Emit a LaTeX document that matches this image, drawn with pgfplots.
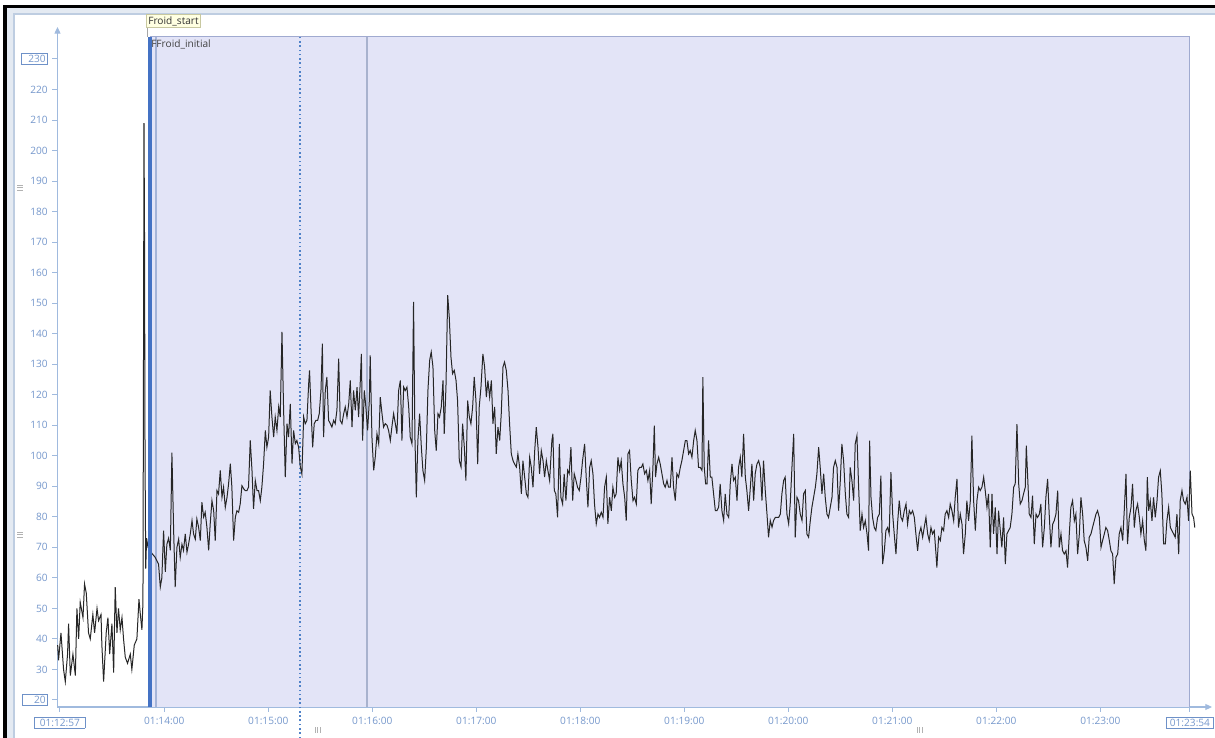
\documentclass[border=0pt]{standalone}
\usepackage{fontspec}
\setmainfont{Open Sans}
\usepackage{pgfplots}
\usepackage{pgfplotstable}
\pgfplotsset{compat=1.18}
\usetikzlibrary{arrows.meta}
\definecolor{axisblue}{RGB}{160,186,222}
\definecolor{ticklab}{RGB}{118,152,204}
\definecolor{boxblue}{RGB}{110,145,200}
\definecolor{shade}{RGB}{227,228,247}
\definecolor{shadeedge}{RGB}{160,170,208}
\definecolor{markblue}{RGB}{68,114,196}
\definecolor{thinmark}{RGB}{165,180,216}
\definecolor{graymark}{RGB}{168,178,206}
\definecolor{dotblue}{RGB}{80,130,200}
\definecolor{framegray}{RGB}{190,205,225}
\definecolor{frameband}{RGB}{228,234,242}
\definecolor{tagfill}{RGB}{255,255,225}
\definecolor{tagedge}{RGB}{200,200,160}

\pgfplotstableread{
t v
58.5 38
59.0 33
60.4 42
61.9 30
62.9 26
64.2 35
64.8 45
65.8 28
67.3 35
68.7 28
69.6 50
70.6 40
71.5 52
73.1 47
74.0 58
75.0 55
76.3 42
77.3 40
78.8 48
79.8 42
81.2 50
82.1 46
83.5 48
84.0 38
85.0 26
86.5 42
87.5 47
88.5 35
89.8 45
90.8 29
91.7 57
92.7 42
93.6 50
94.6 43
95.6 47
96.5 40
97.5 34
98.8 32
100.4 35
101.3 30
102.7 38
104.2 40
105.4 53
106.2 48
107.1 43
107.7 52
108.0 128
108.3 209
108.6 172
108.9 100
109.3 63
109.8 73
110.6 70
112.9 68
114.8 66.7
116.7 64.5
117.7 57
118.6 60
119.6 75.5
120.6 62
121.5 71
122.5 73
123.5 69
124.4 101
125.4 75.5
126.3 57
127.3 70
128.3 72.7
129.2 66.7
130.2 71
131.1 69
132.1 74.4
133.1 68.4
134.0 71
135.0 74.4
136.0 78.8
136.9 74.4
137.9 72.7
138.8 79.3
139.8 76.6
140.8 72.2
141.7 84.8
142.7 79.9
143.6 81.5
144.6 76.6
145.6 69
146.5 77.7
147.5 85.3
148.5 82
149.4 72.2
150.4 88.6
151.3 87.5
152.3 95.2
153.3 86.4
154.2 89.7
155.2 83.1
156.2 86.4
157.1 90.8
158.1 97.4
159.0 89.7
160.0 72.2
161.0 79.9
161.9 82
162.9 81.5
163.8 84.2
164.8 90.2
165.8 89.2
166.7 88.6
167.7 88.6
168.6 89.7
169.6 105
170.6 95.2
171.5 82.6
172.5 91.9
173.5 88.6
174.4 88.6
175.4 85.3
176.3 89.7
177.3 97.4
178.3 108.3
179.2 102.8
180.2 106.1
181.1 121.4
182.1 112.7
183.1 106.1
184.0 112.7
185.0 108.3
186.0 116
186.9 112.7
187.9 140.6
188.8 116
189.8 93
190.8 110.5
191.7 106.1
192.7 117
193.7 97.4
194.6 108.3
195.6 104
196.5 105
197.5 102.8
198.5 96.3
199.4 94
200.4 112.7
201.3 110.5
202.3 111.6
203.3 123.6
203.8 128
204.6 116
205.6 102.8
206.5 110.5
207.5 111.6
208.5 111.6
209.4 113.8
210.4 121.4
211.2 136.7
211.9 106.1
212.9 121.4
213.8 125.8
214.8 111.6
215.8 110.5
216.7 109.4
217.7 111.6
218.6 110.5
219.6 114.9
220.6 131.8
221.5 111.6
222.5 110.5
223.5 113.8
224.4 116
225.4 112.7
226.4 117
227.3 124.7
228.3 109.4
229.2 121.4
230.2 114.9
231.2 122.5
232.1 112.7
233.1 124.7
233.7 133.4
234.4 105
235.4 121.4
236.3 116
237.3 108.3
238.3 118.1
238.8 132.9
239.8 106.1
240.8 95.2
241.7 99.5
242.7 107.2
243.7 103.9
244.6 119.2
245.6 113.8
246.5 109.4
247.5 110.5
248.5 110
249.4 108.3
250.4 105
251.3 109.4
252.3 113.8
253.3 110.5
254.2 107.2
255.2 121.4
256.2 124.7
257.1 105
258.1 122.5
259.0 121.4
260.0 122.5
261.0 116
261.9 106.1
262.9 103.9
263.8 150.4
264.6 106.1
265.4 86.4
266.3 105
267.3 113.8
268.3 102.8
269.2 95.2
270.2 91.9
271.2 102.8
272.1 121.4
273.1 131.3
274.0 134
275.0 129.1
276.0 108.3
276.9 101.7
277.9 113.8
278.8 112.7
279.8 116
280.8 124.7
281.5 107.2
282.5 122.5
283.5 152.6
284.4 145.5
285.4 132.3
286.3 126.9
287.3 128
288.3 124.7
289.2 118.1
290.2 98.4
291.2 96.3
292.1 110.5
293.1 102.8
294.0 91.9
295.0 118.1
296.0 112.7
296.9 110.5
297.9 116
298.8 125.8
299.8 118.1
300.8 97.3
301.7 116
302.7 122.5
303.8 133.4
304.8 129.1
305.8 119.2
306.7 124.7
307.7 119.2
308.7 124.7
309.6 110.5
310.6 116
311.5 100.6
312.5 109.4
313.5 105
314.4 113.8
315.4 129.1
316.3 130.7
317.3 128
318.3 121.4
319.2 110.5
320.2 100.6
321.2 98.4
322.1 97.3
323.1 96.3
324.0 100.6
325.0 96.3
326.0 87.5
326.9 98.4
327.9 93
328.9 87.5
329.8 86.4
330.8 99.5
331.7 96.3
332.7 89.7
333.7 101.7
334.6 109.4
335.6 102.8
336.5 94.1
337.5 101.7
338.5 98.4
339.4 93
340.4 98.4
341.3 95.2
342.3 91.9
343.6 105
344.2 107.2
345.0 88.6
345.9 87.5
346.9 79.8
347.9 103.9
348.8 86.4
349.8 84.2
350.7 94.1
351.7 85.3
352.7 95.2
353.6 94.1
354.6 102.8
355.6 85.3
356.5 94.1
357.5 91.9
358.4 89.7
359.4 88.6
360.4 93
361.3 98.4
362.5 103.9
363.4 93
364.4 83.1
365.4 96.2
366.3 98.4
367.3 94.1
368.2 84.2
369.2 77.7
370.2 80.9
371.1 79.8
372.1 81.5
373.1 79.8
374.0 89.7
375.0 93
375.9 77.7
376.9 86.4
377.9 82
378.8 89.7
379.8 86.4
380.7 87.5
381.7 99.5
382.7 95.2
383.6 98.4
384.6 90.8
385.6 86.4
386.5 78.8
387.5 100.6
388.4 101.7
389.4 91.9
390.4 85.3
391.3 86.4
392.3 84.2
393.2 95.2
394.2 96.2
395.2 96.2
396.1 97.3
397.1 94.1
398.1 95.2
399.0 91.9
400.0 95.2
400.9 84.2
401.9 96.2
402.7 109.9
403.4 93
404.2 97.3
405.2 99.5
406.1 97.3
407.1 94.1
408.1 90.8
409.0 89.7
410.0 91.9
410.9 89.7
411.9 89.7
412.9 99.5
413.8 89.7
414.8 85.3
415.7 94.1
416.7 93
417.7 96.2
418.6 98.4
419.6 101.7
420.6 105
421.5 105
422.5 100.6
423.4 101.7
424.4 99.5
425.4 105
426.3 108.3
427.3 105
428.2 96.2
429.2 96.2
430.2 95.2
430.7 125.8
431.5 96.2
432.3 90.8
433.1 90.8
434.0 105
435.0 93
435.9 93
436.9 87.5
437.9 82
438.8 82
439.8 83.1
440.7 90.8
441.7 82
442.7 78.8
443.6 87.5
444.6 80.9
445.6 79.8
446.5 90.8
447.5 97.3
448.4 91.9
449.4 93
450.4 85.3
451.3 96.2
452.3 99.5
453.2 93
454.2 107.2
455.2 93
456.1 88.6
457.1 82
458.1 89.7
459.0 97.3
460.0 85.3
460.9 94.1
461.9 97.3
462.9 98.4
463.8 96.2
464.8 85.3
465.7 98.4
466.7 88.6
467.7 80.9
468.6 73.3
469.6 78.8
470.6 76.6
471.5 78.8
472.5 79.8
473.4 79.8
474.4 79.8
475.4 80.9
476.3 87.5
477.3 91.9
478.2 93
479.2 80.9
480.2 77.7
481.1 84.2
482.1 96.2
483.1 107.2
484.0 73.3
485.0 86.4
485.9 85.3
486.9 80.9
487.9 78.8
488.8 87.5
489.8 88.6
490.7 74.4
491.7 73.3
492.7 78.8
493.6 83.1
494.6 86.4
495.6 89.7
496.5 94.1
497.5 102.8
498.4 96.2
499.4 87.5
500.4 94.1
501.3 86.4
502.3 80.9
503.2 79.8
504.2 83.1
505.2 86.4
506.1 96.2
507.1 98.4
508.1 96.2
509.0 82
510.0 91.9
510.9 103.9
511.9 98.4
512.9 87.5
513.8 80.9
514.8 79.8
515.7 96.2
516.7 91.9
517.7 85.3
518.6 103.9
519.6 106.6
520.5 90.8
521.5 75.5
522.5 80.9
523.4 76.5
524.4 78.7
525.4 74.4
526.3 68.9
526.9 105
527.7 86.4
528.6 79.8
529.6 76.5
530.5 75.5
531.5 79.8
532.5 80.9
533.4 93.5
534.4 64.5
535.4 68.9
536.3 75.5
537.3 76.5
538.2 74.4
539.2 94.6
540.2 80.9
541.1 74.4
542.1 67.8
543.0 77.6
544.0 85.3
545.0 79.8
545.9 78.7
546.9 82
547.9 84.2
548.8 77.6
549.8 82
550.7 80.9
551.7 82
552.7 79.8
553.6 74.4
554.6 68.9
555.5 74.4
556.5 76.5
557.5 73.3
558.4 76.5
559.4 79.8
560.4 74.4
561.3 72.2
562.3 76.5
563.2 74.4
564.2 75.5
565.2 67.8
565.7 63.4
566.7 73.3
567.7 72.2
568.6 76.5
569.6 75.5
570.5 80.9
571.5 82
572.5 79.8
573.4 84.2
574.4 82
575.4 78.7
576.3 86.4
577.3 92.4
578.2 76.5
579.2 80.9
580.2 77.6
581.1 67.8
582.1 74.4
583.0 85.3
584.0 78.7
585.0 85.3
585.9 106.6
586.9 85.3
587.9 75.5
588.8 85.3
589.8 89.7
590.7 88.6
591.7 89.7
592.7 93
593.6 88.6
594.6 83.1
595.5 87.5
596.5 70
597.5 87.5
598.4 74.4
599.4 83.1
600.4 67.8
601.3 82
602.3 75.5
603.2 70
604.2 79.8
605.2 64.5
606.1 74.4
607.1 75.5
608.0 76.5
609.0 80.9
610.0 89.7
610.9 90.8
611.9 110.4
612.9 90.8
613.8 84.2
614.8 85.3
615.7 87.5
616.7 89.7
617.3 103.3
618.0 94.1
619.0 80.9
620.0 79.8
620.9 86.9
621.9 71.1
622.9 80.9
623.8 79.8
624.8 80.9
625.7 84.2
626.7 70
627.7 76.5
628.6 86.4
629.6 92.4
630.5 80.9
631.5 70
632.5 77.6
633.4 78.7
634.4 80.9
635.4 88.6
636.3 70
637.3 74.4
638.2 68.9
639.2 67.8
640.2 68.9
641.1 63.4
642.1 74.4
643.0 83.1
644.0 85.3
645.0 78.7
645.9 80.9
646.9 67.8
647.9 74.4
648.8 86.4
649.8 80.9
650.7 72.2
651.7 70
652.7 65.6
653.6 73.3
654.6 74.4
655.5 76.5
656.5 78.7
657.5 80.9
658.4 82
659.4 79.8
660.4 70
661.3 72.2
662.3 74.4
663.2 76.5
664.2 75.5
665.2 72.2
666.1 68.9
667.1 67.8
668.0 58
669.0 66.7
670.0 67.8
670.9 74.4
671.9 76.5
672.9 72.2
673.8 82
674.8 94.1
675.7 71.1
676.7 79.8
677.7 83.1
678.6 90.8
679.6 76.5
680.5 82
681.5 84.2
682.5 79.8
683.4 74.4
684.4 78.7
685.4 72.2
686.3 68.9
687.1 93
687.9 82
688.8 85.3
689.8 78.7
690.7 86.4
691.7 79.8
692.7 85.3
693.6 93
694.6 95.1
695.5 87.5
696.5 71.1
697.5 71.1
698.4 78.7
699.4 83.1
700.4 76.5
701.3 75.5
702.3 74.4
703.2 73.3
704.2 80.9
705.2 67.8
706.1 85.3
707.1 88.6
708.0 85.3
709.0 84.2
710.0 86.4
710.9 78.7
711.9 95.1
712.9 80.9
713.8 79.8
714.5 76.5
}\datatable

\begin{document}
\begin{tikzpicture}[x=0.75pt,y=0.75pt]
% window frame (pixel-based picture coordinates, y up from the bottom)
\path[use as bounding box, fill=white] (0,0) rectangle (1215,738);
\fill[frameband] (7,0) rectangle (1215,730);
\fill[white] (15,0) rectangle (1215,723);
\draw[framegray, line width=1.5pt] (14,0) -- (14,724) -- (1215,724);
\fill[black] (3,0) rectangle (7,733);
\fill[black] (3,730) rectangle (1215,733);

\begin{axis}[
  at={(43.125pt,23.25pt)}, anchor=south west,
  scale only axis, width=853.1pt, height=502.5pt,
  xmin=58.4, xmax=714.6, ymin=17.7, ymax=237.2,
  axis x line*=bottom, axis y line*=left,
  axis line style={axisblue, line width=0.9pt},
  x axis line style={-{Triangle[length=5pt,width=4.5pt]}, shorten >=-12.75pt},
  y axis line style={-{Triangle[length=5pt,width=4.5pt]}, shorten >=-7.5pt},
  tick align=outside, major tick length=3.75pt,
  tick style={axisblue, line width=0.75pt},
  /pgf/number format/assume math mode=true,
  ticklabel style={font=\fontsize{7.6}{8.5}\selectfont, text=ticklab},
  xtick={59.8,120,180,240,300,360,420,480,540,600,660,711.7},
  xticklabels={{\fcolorbox{boxblue}{white}{\makebox[35pt]{01:12:57}}},01:14:00,01:15:00,01:16:00,01:17:00,01:18:00,01:19:00,01:20:00,01:21:00,01:22:00,01:23:00,{\fcolorbox{boxblue}{white}{\makebox[33pt]{01:23:54}}}},
  ytick={20,30,40,50,60,70,80,90,100,110,120,130,140,150,160,170,180,190,200,210,220,230},
  yticklabels={{\fcolorbox{boxblue}{white}{\makebox[16pt][r]{20}}},30,40,50,60,70,80,90,100,110,120,130,140,150,160,170,180,190,200,210,220,{\fcolorbox{boxblue}{white}{\makebox[17pt][r]{230}}}},
  every tick label/.append style={/utils/exec={\setlength{\fboxsep}{1pt}\setlength{\fboxrule}{0.6pt}}},
  clip=false,
]
% shaded analysis window
\addplot[fill=shade, draw=none] coordinates {(111.75,17.7) (111.75,237.2) (711.7,237.2) (711.7,17.7)};
\addplot[shadeedge, line width=0.75pt] coordinates {(111.75,237.2) (711.7,237.2) (711.7,17.7)};
% event markers
\addplot[thinmark, line width=0.9pt] coordinates {(115.2,17.7) (115.2,237.2)};
\addplot[graymark, line width=1.1pt] coordinates {(236.9,17.7) (236.9,237.2)};
\addplot[dotblue, dotted, line width=1.2pt] coordinates {(198.4,7.5) (198.4,237.2)};
\addplot[gray!70, line width=0.75pt] coordinates {(110.5,237.2) (110.5,240.5)};
% signal
\addplot[black!85, line width=0.75pt] table[x=t, y=v] {\datatable};
% start marker
\addplot[markblue, line width=3.4pt] coordinates {(111.75,17.7) (111.75,237.2)};
\end{axis}

% labels
\node[fill=tagfill, draw=tagedge, line width=0.5pt, inner sep=1.5pt, anchor=west,
      font=\fontsize{7.6}{8.5}\selectfont, text=black!80] at (146,717) {Froid\_start};
\node[anchor=west, inner sep=0pt, font=\fontsize{7.6}{8.5}\selectfont, text=black!75] at (151,694) {FFroid\_initial};
% scroll handles
\foreach \yy in {548,201} {
  \foreach \d in {0,2.5,5} \draw[gray!60, line width=0.5pt] (17,\yy+\d) -- (23,\yy+\d);
}
\foreach \xx in {315,917} {
  \foreach \d in {0,2.5,5} \draw[gray!60, line width=0.5pt] (\xx+\d,5) -- (\xx+\d,11);
}
\end{tikzpicture}
\end{document}
